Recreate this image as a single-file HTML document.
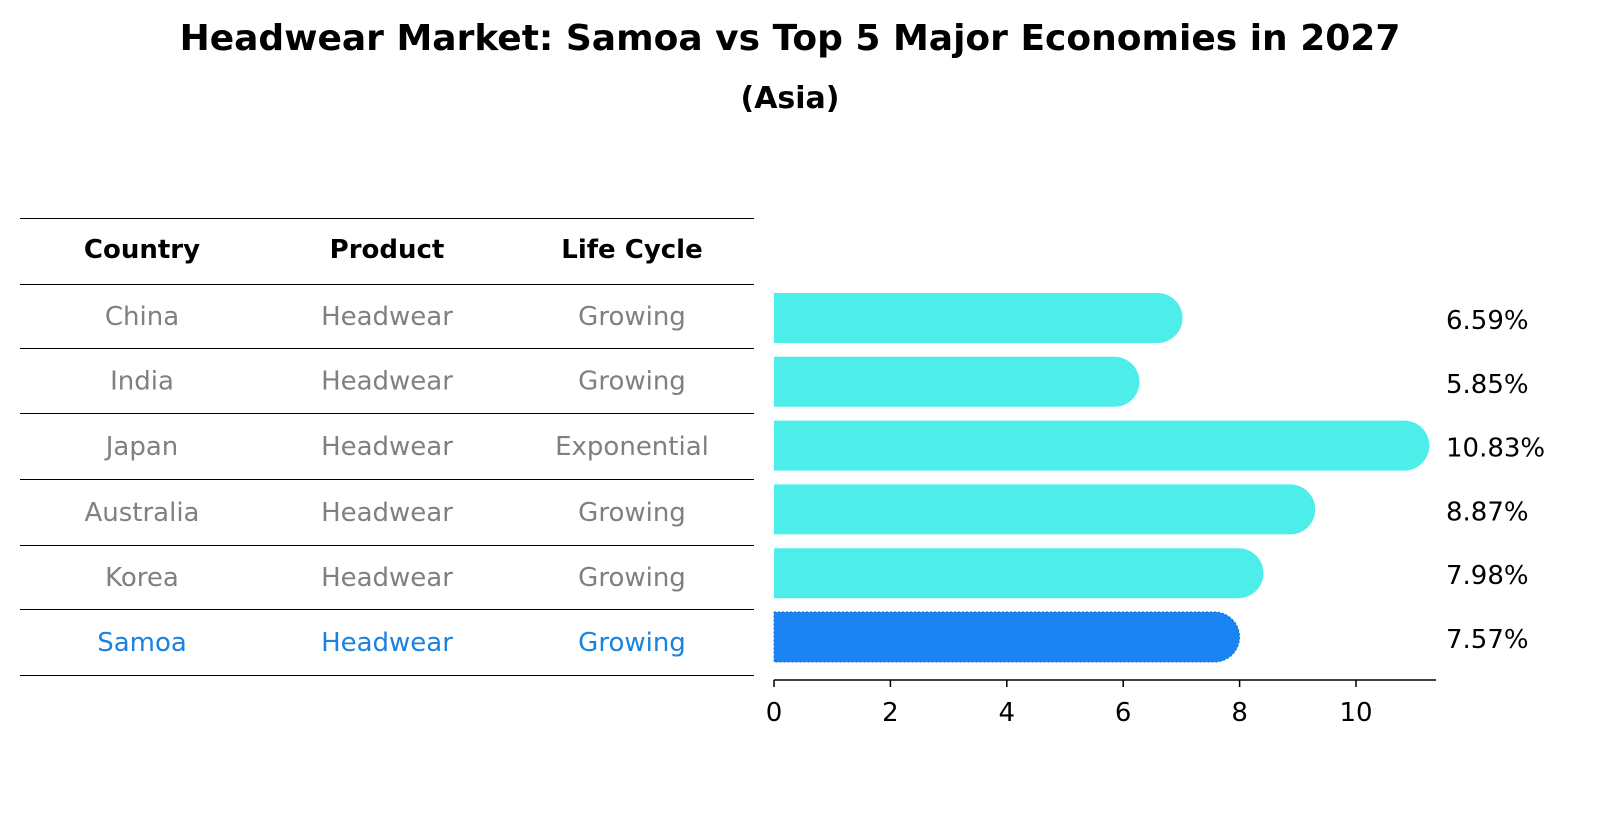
<!DOCTYPE html>
<html><head><meta charset="utf-8"><style>
html,body{margin:0;padding:0;background:#fff;overflow:hidden;width:1604px;height:823px;}
svg{display:block;}
svg text{font-family:"DejaVu Sans","Liberation Sans",sans-serif;}
</style></head><body>
<svg id="c" width="1604" height="823" xmlns="http://www.w3.org/2000/svg">
<text x="790" y="50" text-anchor="middle" font-size="36" font-weight="bold">Headwear Market: Samoa vs Top 5 Major Economies in 2027</text>
<text x="790" y="108" text-anchor="middle" font-size="30" font-weight="bold">(Asia)</text>
<g id="table"></g>
<g id="bars"></g>
</svg>
<script>
const countries=["China","India","Japan","Australia","Korea","Samoa"];
const products=["Headwear","Headwear","Headwear","Headwear","Headwear","Headwear"];
const lifeCycles=["Growing","Growing","Exponential","Growing","Growing","Growing"];
const values=[6.59,5.85,10.83,8.87,7.98,7.57];
const tickLabels=[0,2,4,6,8,10];
const NS="http://www.w3.org/2000/svg";
function mk(tag,attrs,parent){const e=document.createElementNS(NS,tag);for(const k in attrs)e.setAttribute(k,attrs[k]);parent.appendChild(e);return e;}
const tbl=document.getElementById('table');
const bars=document.getElementById('bars');
const rowY=i=>318+i*63.8;
const xS=v=>774+v*58.2;
const colX=[142,387,632];
const lineYs=[218,284,348,413,479,545,609,675];
lineYs.forEach(y=>{const l=mk('line',{x1:20,x2:754,y1:y+0.5,y2:y+0.5,stroke:'#000','stroke-width':1},tbl);

});
["Country","Product","Life Cycle"].forEach((h,j)=>{const t=mk('text',{x:colX[j],y:258,'text-anchor':'middle','font-size':26,'font-weight':'bold'},tbl);t.textContent=h;

});
countries.forEach((c,i)=>{const y=(lineYs[i+1]+lineYs[i+2])/2+9;const col=c==="Samoa"?"#1a82e0":"#808080";
[c,products[i],lifeCycles[i]].forEach((v,j)=>{const t=mk('text',{x:colX[j],y:y,'text-anchor':'middle','font-size':26,fill:col},tbl);t.textContent=v;

});});
const h=50,r=25;
values.forEach((v,i)=>{const cy=rowY(i);const x0=xS(0),x1=xS(v);const hl=countries[i]==="Samoa";
const d=`M${x0},${cy-h/2} L${x1},${cy-h/2} A${r},${r} 0 0 1 ${x1},${cy+h/2} L${x0},${cy+h/2} Z`;
const p=mk('path',{d:d,fill:hl?'#1a84f2':'#4deeea',stroke:hl?'#1470d0':'none','stroke-dasharray':'2,2','stroke-width':1},bars);


const t=mk('text',{x:1446,y:cy+11,'font-size':26},bars);t.textContent=v.toFixed(2)+'%';

});
const ax=mk('line',{x1:774,x2:1436,y1:680,y2:680,stroke:'#000','stroke-width':1.5},bars);


tickLabels.forEach(v=>{const x=xS(v);const tk=mk('line',{x1:x,x2:x,y1:680,y2:687,stroke:'#000','stroke-width':1.5},bars);


const t=mk('text',{x:x,y:721,'text-anchor':'middle','font-size':26},bars);t.textContent=v;

});
</script>
</body></html>
